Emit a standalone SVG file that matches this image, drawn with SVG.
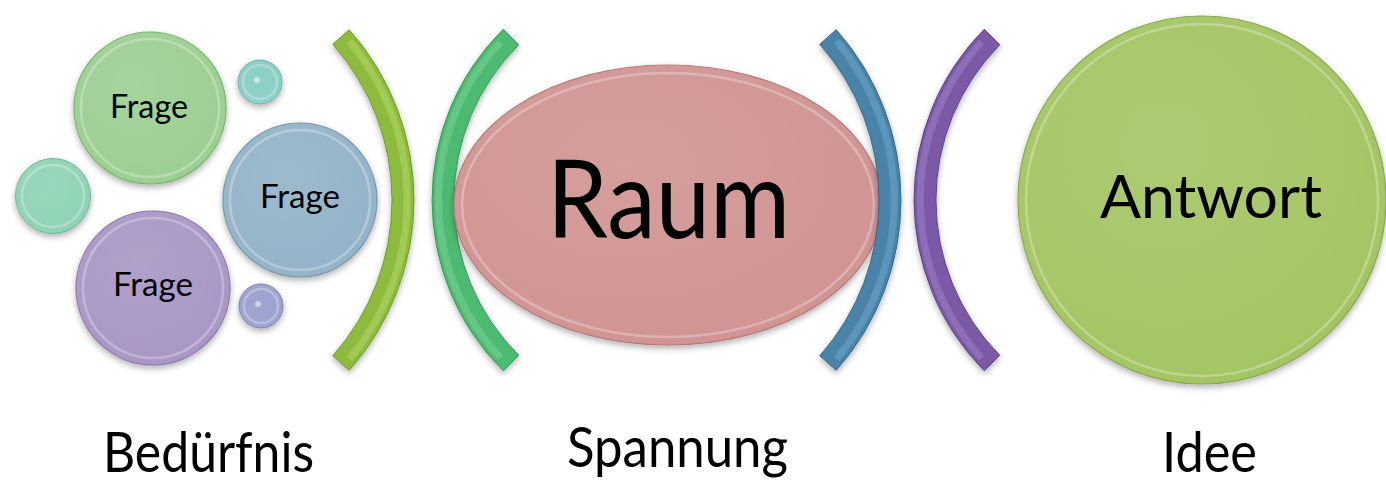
<svg xmlns="http://www.w3.org/2000/svg" width="1386" height="482" viewBox="0 0 1386 482">
  <defs>
    <filter id="sh" x="-20%" y="-20%" width="140%" height="140%">
      <feDropShadow dx="0" dy="3" stdDeviation="3" flood-color="#000" flood-opacity="0.3"/>
    </filter>
    <radialGradient id="gloss" cx="0.4" cy="0.35" r="0.7">
      <stop offset="0" stop-color="#fff" stop-opacity="0.1"/>
      <stop offset="1" stop-color="#fff" stop-opacity="0"/>
    </radialGradient>
  </defs>
  <style>
    .t { font-family: Lato, "Open Sans", "Noto Sans", sans-serif; fill: #000; text-anchor: middle; }
    .frage { font-size: 33px; }
    .lbl { font-size: 56px; }
    .ring { fill: none; stroke: #fff; stroke-opacity: 0.28; stroke-width: 2.5; }
    .gl { fill: url(#gloss); }
    .brk { stroke-width: 1; filter: url(#sh); }
    .face { fill: none; stroke-width: 7; stroke-opacity: 0.4; }
    .dot { fill: #fff; fill-opacity: 0.5; }
  </style>

  <!-- Bedürfnis cluster -->
  <g id="frage-green">
    <circle cx="150" cy="108" r="76" fill="#9ccf92" stroke="#7cb373" stroke-width="1.2" filter="url(#sh)"/>
    <circle cx="150" cy="108" r="69" class="ring"/>
    <circle cx="150" cy="108" r="76" class="gl"/>
    <text class="t frage" x="149" y="118" textLength="78" lengthAdjust="spacingAndGlyphs">Frage</text>
  </g>
  <g id="bubble-top">
    <circle cx="260" cy="82" r="22" fill="#8ecfc8" stroke="#6fb2aa" stroke-width="1" filter="url(#sh)"/>
    <circle cx="260" cy="82" r="17" class="ring"/>
    <circle cx="257" cy="80" r="3" class="dot"/>
  </g>
  <g id="bubble-left">
    <circle cx="53" cy="196" r="37.5" fill="#8fd3b4" stroke="#6fb595" stroke-width="1" filter="url(#sh)"/>
    <circle cx="53" cy="196" r="31" class="ring"/>
    <circle cx="53" cy="196" r="37.5" class="gl"/>
  </g>
  <g id="frage-blue">
    <circle cx="300" cy="200" r="77" fill="#93b3c8" stroke="#7393a8" stroke-width="1.2" filter="url(#sh)"/>
    <circle cx="300" cy="200" r="70" class="ring"/>
    <circle cx="300" cy="200" r="77" class="gl"/>
    <text class="t frage" x="300" y="208" textLength="80" lengthAdjust="spacingAndGlyphs">Frage</text>
  </g>
  <g id="frage-purple">
    <circle cx="153" cy="288" r="77" fill="#a996c5" stroke="#8a77a8" stroke-width="1.2" filter="url(#sh)"/>
    <circle cx="153" cy="288" r="70" class="ring"/>
    <circle cx="153" cy="288" r="77" class="gl"/>
    <text class="t frage" x="153" y="296" textLength="80" lengthAdjust="spacingAndGlyphs">Frage</text>
  </g>
  <g id="bubble-bottom">
    <circle cx="261" cy="306" r="22" fill="#9ea4d0" stroke="#7d83b0" stroke-width="1" filter="url(#sh)"/>
    <circle cx="261" cy="306" r="17" class="ring"/>
    <circle cx="258" cy="304" r="3" class="dot"/>
  </g>

  <!-- brackets -->
  <g id="connectors">
    <g id="bracket-green-close">
      <path class="brk" fill="#8cbb3c" stroke="#6e9a26" d="M 349.2 29.7 A 256.3 256.3 0 0 1 349.2 370.3 L 332.8 355.7 A 234.3 234.3 0 0 0 332.8 44.3 Z"/>
      <path class="face" stroke="#c2e27a" d="M 349.5 41 A 248 248 0 0 1 349.5 359"/>
    </g>
    <g id="bracket-green-open">
      <path class="brk" fill="#4dba72" stroke="#32985a" d="M 503.3 29.2 A 240.4 240.4 0 0 0 503.3 370.8 L 518.7 355.2 A 218.4 218.4 0 0 1 518.7 44.8 Z"/>
      <path class="face" stroke="#86dca2" d="M 500.6 42 A 232 232 0 0 0 500.6 358"/>
    </g>
  </g>

  <g id="raum">
    <ellipse cx="668" cy="205" rx="214" ry="140" fill="#d09493" stroke="#b57877" stroke-width="1.2" filter="url(#sh)"/>
    <ellipse cx="668" cy="205" rx="206" ry="132" class="ring"/>
    <ellipse cx="668" cy="205" rx="214" ry="140" class="gl"/>
    <text class="t" x="668.5" y="238" font-size="108" textLength="243" lengthAdjust="spacingAndGlyphs">Raum</text>
  </g>

  <g id="connectors-2">
    <g id="bracket-blue-close">
      <path class="brk" fill="#4a83a8" stroke="#33668a" d="M 836.2 29.7 A 256.3 256.3 0 0 1 836.2 370.3 L 819.8 355.7 A 234.3 234.3 0 0 0 819.8 44.3 Z"/>
      <path class="face" stroke="#7fb3d6" d="M 836.5 41 A 248 248 0 0 1 836.5 359"/>
    </g>
    <g id="bracket-purple-open">
      <path class="brk" fill="#7a5aa7" stroke="#5c3f88" d="M 984.2 29.3 A 242.8 242.8 0 0 0 984.2 370.7 L 999.8 355.3 A 220.8 220.8 0 0 1 999.8 44.7 Z"/>
      <path class="face" stroke="#a98bd3" d="M 981.5 42 A 234.5 234.5 0 0 0 981.5 358"/>
    </g>
  </g>

  <g id="antwort">
    <circle cx="1202" cy="200" r="184" fill="#a4c563" stroke="#87a84a" stroke-width="1.2" filter="url(#sh)"/>
    <circle cx="1202" cy="200" r="176" class="ring"/>
    <circle cx="1202" cy="200" r="184" class="gl"/>
    <text class="t" x="1211" y="218" font-size="60" textLength="222" lengthAdjust="spacingAndGlyphs">Antwort</text>
  </g>

  <!-- bottom labels -->
  <g id="labels">
    <text class="t lbl" x="208.5" y="472" textLength="211" lengthAdjust="spacingAndGlyphs">Bedürfnis</text>
    <text class="t lbl" x="677.5" y="467" textLength="221" lengthAdjust="spacingAndGlyphs">Spannung</text>
    <text class="t lbl" x="1209.5" y="472" textLength="95" lengthAdjust="spacingAndGlyphs">Idee</text>
  </g>
</svg>
